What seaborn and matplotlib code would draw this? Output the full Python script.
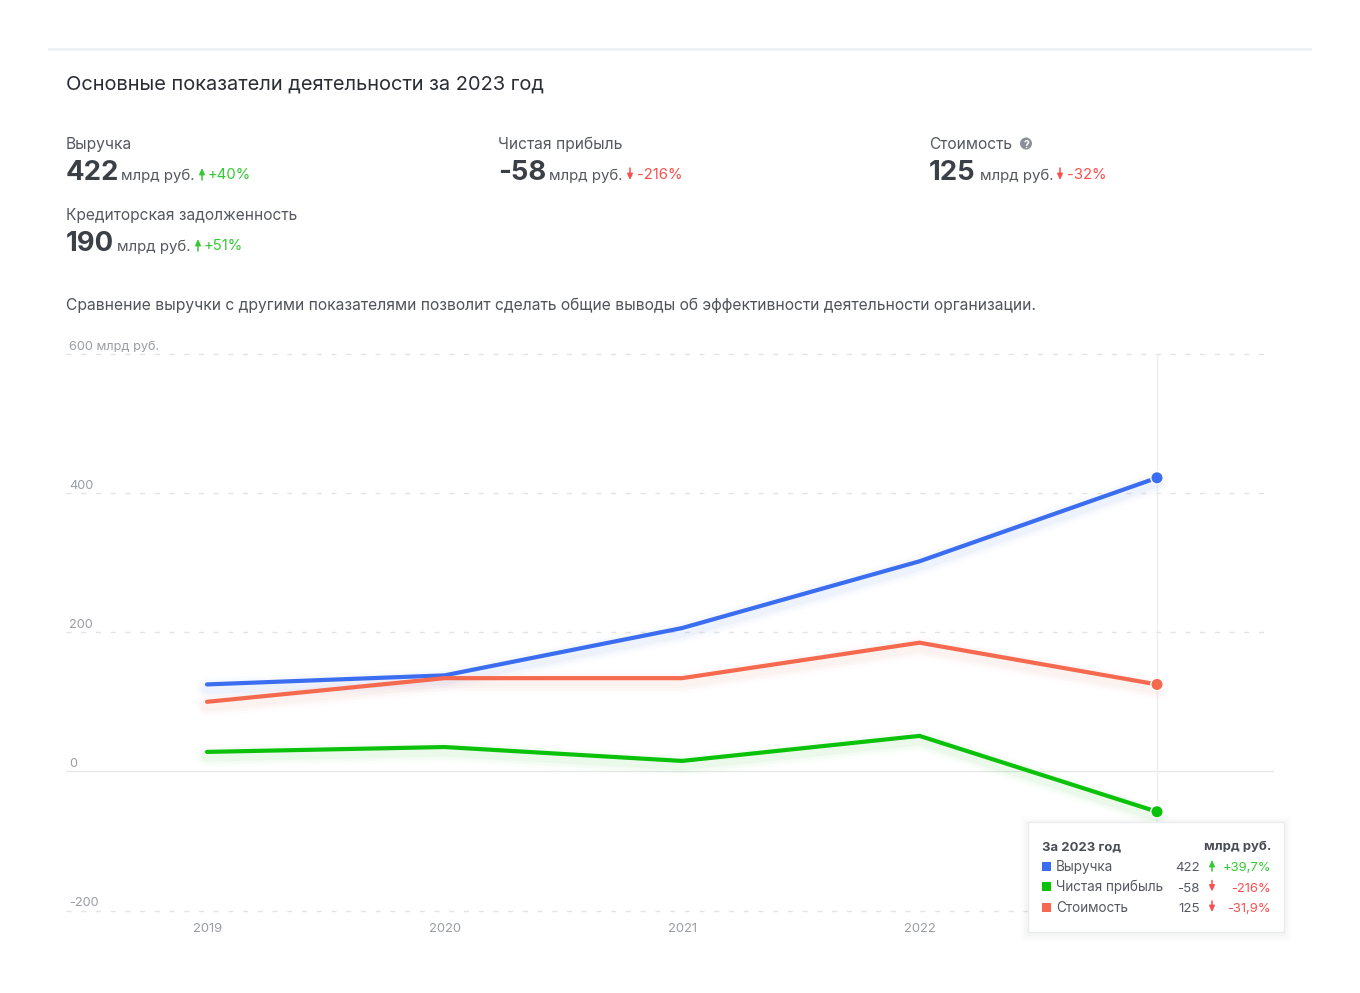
import matplotlib
matplotlib.use("Agg")
import matplotlib.pyplot as plt
from matplotlib.patches import Rectangle, Circle, FancyArrowPatch
import pandas as pd
import seaborn as sns

sns.set_theme(style="white")
plt.rcParams["font.family"] = ["Inter", "DejaVu Sans"]

# values, bln rub
years = [2019, 2020, 2021, 2022, 2023]
revenue = [125, 138, 206, 302, 422]
profit = [28, 35, 15, 51, -58]
cost = [100, 134, 134, 185, 125]
y_ticks = [-200, 0, 200, 400, 600]
y_labels = ["-200", "0", "200", "400", "600 млрд руб."]
x_labels = ["2019", "2020", "2021", "2022"]

names = ["Выручка", "Чистая прибыль", "Стоимость"]
palette = {"Выручка": "#3a6df0", "Чистая прибыль": "#0ac20a", "Стоимость": "#f5694f"}

W, H = 1360, 993
DARK = "#3b3f46"
GREY = "#55585f"
GREEN = "#35c935"
RED = "#fb4e4e"

df = pd.DataFrame({"year": years * 3,
                   "value": revenue + profit + cost,
                   "name": [n for n in names for _ in years]})

fig = plt.figure(figsize=(W / 100, H / 100), dpi=100)
fig.patch.set_facecolor("white")

# axes box is placed in pixels: left 66, right 1274, y from 354 (600) to 911 (-200)
ax = fig.add_axes([66 / W, 1 - 910.5 / H, (1274 - 66) / W, (910.5 - 354) / H])
ax.set_xlim(2019 - 141 / 237.5, 2023 + 117 / 237.5)
ax.set_ylim(-200, 600)
sns.despine(ax=ax, left=True, bottom=True, top=True, right=True)

# grid
for t in y_ticks:
    if t == 0:
        ax.axhline(t, color="#e6e8ea", lw=1, zorder=1)
    else:
        ax.plot([ax.get_xlim()[0], 2023 + 109 / 237.5], [t, t], color="#e3e4e6", lw=1,
                dashes=(3.6, 7), zorder=1, clip_on=False)
ax.axvline(2023, color="#eceef0", lw=1, zorder=1)

# soft glow under the lines
glow = df.copy()
glow["value"] = glow["value"] - 6
for lw, a in [(16, 0.015), (12, 0.025), (8, 0.04)]:
    sns.lineplot(data=glow, x="year", y="value", hue="name", palette=palette, lw=lw,
                 alpha=a, legend=False, ax=ax, zorder=2)

sns.lineplot(data=df, x="year", y="value", hue="name", palette=palette, lw=3,
             legend=False, ax=ax, zorder=3, solid_capstyle="round")
last = df[df["year"] == 2023]
sns.scatterplot(data=last, x="year", y="value", hue="name", palette=palette, s=80,
                edgecolor="white", linewidth=1, legend=False, ax=ax, zorder=4, clip_on=False)

ax.set_xlabel("")
ax.set_ylabel("")
ax.set_xticks([])
ax.set_yticks([])
for t, lab in zip(y_ticks, y_labels):
    ax.annotate(lab, (0, t), xycoords=("axes fraction", "data"), xytext=(2.5, 0.8),
                textcoords="offset points", color="#9a9da3", fontsize=9.2, va="bottom")
for yr, lab in zip(years, x_labels):
    ax.annotate(lab, (yr, 0), xycoords=("data", "axes fraction"), xytext=(0.2, -9),
                textcoords="offset points", color="#9a9da3", fontsize=9.4, ha="center", va="top")


def txt(x, y, s, size=11.2, color=GREY, weight="normal", ha="left", zorder=10):
    # x, y in image pixels, y is the baseline
    return fig.text(x / W, 1 - y / H, s, fontsize=size, color=color, fontweight=weight,
                    ha=ha, va="baseline", zorder=zorder)


def arrow(x, y_top, y_bottom, up, color):
    # thin arrow in image pixels
    a, b = (y_bottom, y_top) if up else (y_top, y_bottom)
    fig.add_artist(FancyArrowPatch((x, H - a), (x, H - b), transform=None,
                                   arrowstyle="-|>,head_length=3.5,head_width=1.6",
                                   mutation_scale=1, color=color, lw=1.1,
                                   shrinkA=0, shrinkB=0, zorder=11))


# top rule
fig.add_artist(Rectangle((48 / W, 1 - 51 / H), 1264 / W, 3 / H, transform=fig.transFigure,
                         color="#f0f1f2", lw=0))

txt(66, 90, "Основные показатели деятельности за 2023 год", size=14.4, color="#2a2d34")

txt(66, 149, "Выручка")
txt(66, 180, "422", size=19.8, weight="bold", color=DARK)
txt(121, 180, "млрд руб.", size=10.8)
arrow(202, 168, 180, True, GREEN)
txt(208, 179, "+40%", size=10.7, color=GREEN)

txt(498, 149, "Чистая прибыль")
txt(498, 180, "-58", size=19.8, weight="bold", color=DARK)
txt(549, 180, "млрд руб.", size=10.8)
arrow(630, 168, 180, False, RED)
txt(637, 179, "-216%", size=10.7, color=RED)

txt(929, 149, "Стоимость")
fig.add_artist(Circle((1026, H - 143.5), 6, transform=None, color="#8a8f99", lw=0))
txt(1026, 147.5, "?", size=7.5, color="white", weight="bold", ha="center")
txt(929, 180, "125", size=19.8, weight="bold", color=DARK)
txt(980, 180, "млрд руб.", size=10.8)
arrow(1060, 168, 180, False, RED)
txt(1067, 179, "-32%", size=10.7, color=RED)

txt(66, 220, "Кредиторская задолженность")
txt(66, 251, "190", size=19.8, weight="bold", color=DARK)
txt(117, 251, "млрд руб.", size=10.8)
arrow(198, 239, 251, True, GREEN)
txt(204, 250, "+51%", size=10.7, color=GREEN)

txt(66, 310, "Сравнение выручки с другими показателями позволит сделать общие выводы "
             "об эффективности деятельности организации.", size=11.27, color="#50535a")

# tooltip box with shadow
for grow, a in [(8, 0.006), (6, 0.008), (4, 0.01), (2, 0.012)]:
    fig.add_artist(Rectangle(((1028 - grow) / W, 1 - (932 + grow + 2) / H),
                             (256 + 2 * grow) / W, (110 + 2 * grow) / H,
                             transform=fig.transFigure, color="black", alpha=a, lw=0, zorder=8))
fig.add_artist(Rectangle((1028 / W, 1 - 932 / H), 256 / W, 110 / H, transform=fig.transFigure,
                         facecolor="white", edgecolor="#e9ebed", lw=1, zorder=9))

txt(1042, 850, "За 2023 год", size=9.4, weight="bold", color="#4a4d54")
txt(1271, 850, "млрд руб.", size=9.4, weight="bold", color="#4a4d54", ha="right")

rows_val = ["422", "-58", "125"]
rows_up = [True, False, False]
rows_pct = ["+39,7%", "-216%", "-31,9%"]
rows_col = [GREEN, RED, RED]
for i, n in enumerate(names):
    base = 871 + i * 20.5
    fig.add_artist(Rectangle((1042 / W, 1 - (base - 0.5) / H), 9 / W, 9 / H,
                             transform=fig.transFigure, color=palette[n], lw=0, zorder=10))
    txt(1056, base, n, size=9.75, color="#565960")
    txt(1200, base, rows_val[i], size=9.6, color="#565960", ha="right")
    arrow(1212, base - 11, base, rows_up[i], rows_col[i])
    txt(1271, base, rows_pct[i], size=9.4, color=rows_col[i], ha="right")

fig.savefig("out.png", dpi=100)
